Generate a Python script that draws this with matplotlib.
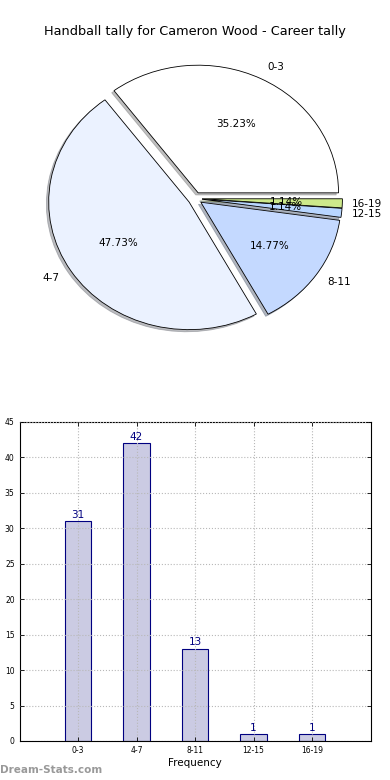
import numpy as np
import matplotlib
matplotlib.use("Agg")
import matplotlib.pyplot as plt

# tally buckets and counts
buckets = ["0-3", "4-7", "8-11", "12-15", "16-19"]
counts = [31, 42, 13, 1, 1]
pie_colors = ["#ffffff", "#ebf2ff", "#c4d9ff", "#b8d6ff", "#cde98b"]

fig = plt.figure(figsize=(3.9, 7.8), dpi=100)
fig.subplots_adjust(left=0.05, right=0.95, bottom=0.05, top=0.95, hspace=0.2)

# pie of the tally
ax1 = fig.add_subplot(2, 1, 1)
wedges, texts, autotexts = ax1.pie(
    counts, labels=buckets, colors=pie_colors, explode=[0.05] * len(counts),
    autopct="%1.2f%%", shadow=dict(ox=-0.012, oy=-0.012, shade=0.5), startangle=0,
    wedgeprops=dict(edgecolor="black", linewidth=0.6),
    textprops=dict(fontsize=7.5),
)
ax1.set_aspect("auto")
ax1.set_xlim(-1.25, 1.25)
ax1.set_ylim(-1.25, 1.25)
ax1.set_title("Handball tally for Cameron Wood - Career tally", fontsize=9.3, pad=3)
for t in texts[3:]:
    t.set_x(t.get_position()[0] - 0.03)

# bar chart of the same counts
ax2 = fig.add_subplot(2, 1, 2)
x = np.arange(1, len(buckets) + 1)
bars = ax2.bar(x, counts, width=0.45, color="#cbcbe3", edgecolor="#000080", linewidth=0.8, zorder=1)
ax2.bar_label(bars, labels=[str(c) for c in counts], color="#000080", fontsize=7.5, padding=1)
ax2.set_xlim(0, 6)
ax2.set_ylim(0, 45)
ax2.set_xticks(x)
ax2.set_xticklabels(buckets)
ax2.set_yticks(np.arange(0, 46, 5))
ax2.tick_params(direction="in", top=True, right=True, labelsize=5.5, length=3, width=0.6)
ax2.grid(True, linestyle=":", color="#b8b8b8", linewidth=0.8, zorder=3)
ax2.set_axisbelow(False)
for s in ax2.spines.values():
    s.set_linewidth(0.8)
ax2.set_xlabel("Frequency", fontsize=7.5, labelpad=2)

fig.text(0.0, 0.013, "Dream-Stats.com", fontsize=7.5, fontweight="bold", color="#999999", va="center")

fig.savefig("out.png", dpi=100)
